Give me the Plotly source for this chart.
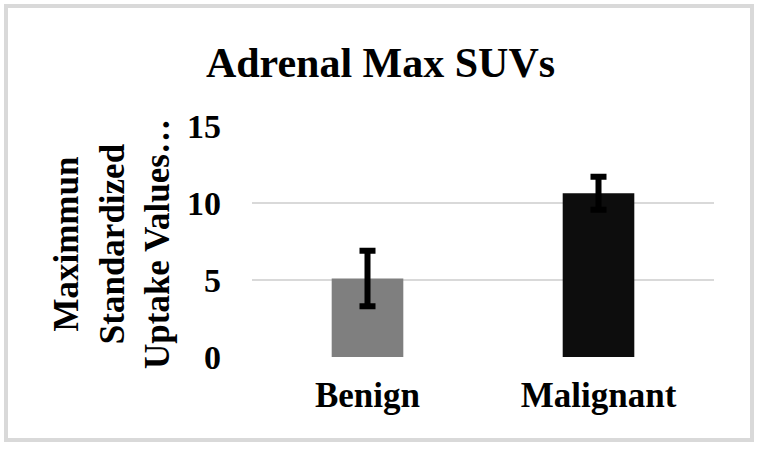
import plotly.graph_objects as go

categories = ["Benign", "Malignant"]
values = [5.1, 10.63]
errors = [1.8, 1.07]
bar_colors = ["#7f7f7f", "#0d0d0d"]
tick_vals = [0, 5, 10, 15]

W, H = 761, 449
L, R, T, B = 252, 47, 126, 92
pw, ph = W - L - R, H - T - B

def px_x(p):
    return (p - L) / pw

def px_y(p):
    return (H - B - p) / ph

FONT = "Liberation Serif"

fig = go.Figure(go.Bar(
    x=categories, y=values,
    marker=dict(color=bar_colors, line=dict(width=0)),
    error_y=dict(type="data", array=errors, visible=True,
                 color="#000000", thickness=6, width=8),
    width=0.31,
))

fig.update_layout(
    width=W, height=H,
    margin=dict(l=L, r=R, t=T, b=B),
    paper_bgcolor="white", plot_bgcolor="white",
    showlegend=False,
    title=dict(text="<b>Adrenal Max SUVs</b>", x=0.5, xref="container",
               xanchor="center", y=1 - 62 / H, yref="container", yanchor="middle",
               font=dict(family=FONT, size=42, color="#000000")),
    xaxis=dict(showgrid=False, showline=False, zeroline=False, ticks="",
               tickfont=dict(family=FONT, size=35, color="#000000"),
               ticklabelstandoff=14, fixedrange=True),
    yaxis=dict(range=[0, 15], tickvals=tick_vals,
               ticktext=[f"<b>{v}</b>" for v in tick_vals],
               showgrid=True, gridcolor="#d9d9d9", gridwidth=1.5,
               zeroline=False, showline=False, ticks="",
               tickfont=dict(family=FONT, size=34, color="#000000"),
               ticklabelstandoff=30),
    annotations=[dict(
        text="<b>Maximmun<br>Standardized<br>Uptake Values…</b>",
        textangle=-90, xref="paper", yref="paper",
        x=px_x(112), y=px_y(244), xanchor="center", yanchor="middle",
        showarrow=False, align="center",
        font=dict(family=FONT, size=35, color="#000000"))],
    shapes=[dict(type="rect", xref="paper", yref="paper",
                 x0=px_x(6), x1=px_x(752), y0=px_y(440), y1=px_y(6),
                 line=dict(color="#d9d9d9", width=4), layer="below")],
)
fig.update_xaxes(ticktext=[f"<b>{c}</b>" for c in categories], tickvals=categories)

fig.write_html("out.html")
